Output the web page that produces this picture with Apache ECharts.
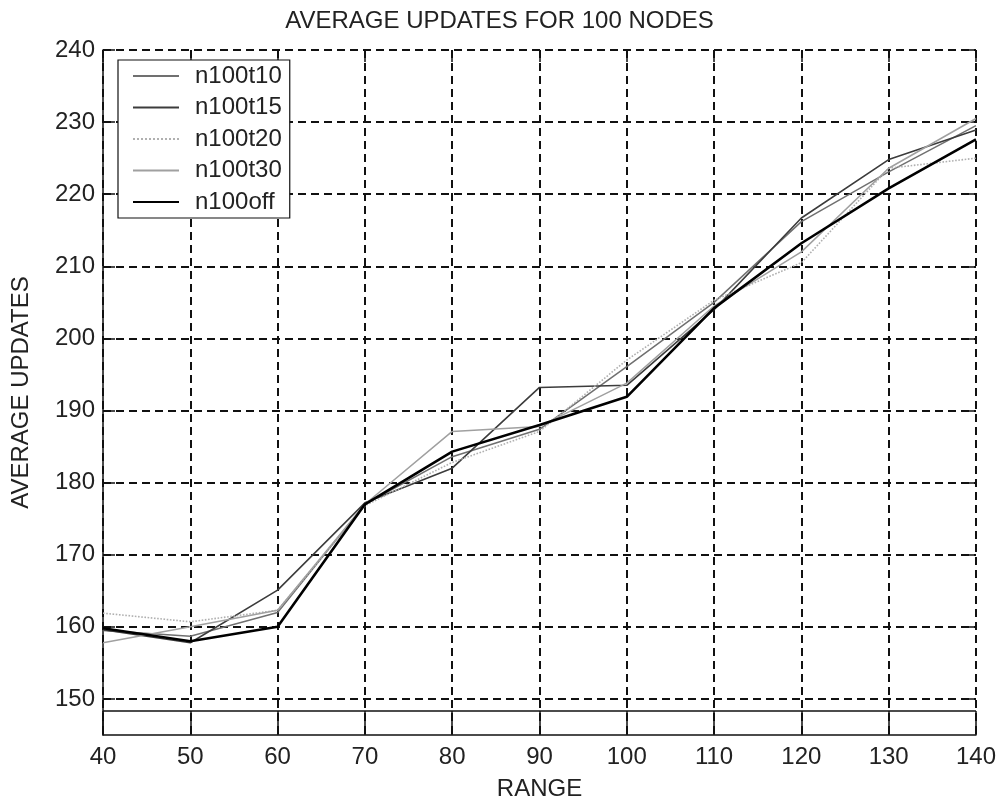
<!DOCTYPE html>
<html>
<head>
<meta charset="utf-8">
<script src="https://cdn.jsdelivr.net/npm/echarts@6/dist/echarts.min.js"></script>
<style>html,body{margin:0;padding:0;background:#fff;}#c{width:999px;height:806px;}</style>
</head>
<body>
<div id="c"></div>
<script>
const ranges = [40, 50, 60, 70, 80, 90, 100, 110, 120, 130, 140];
const n100t10 = [159.5, 158.7, 162.0, 177.0, 183.6, 187.4, 196.1, 205.0, 216.2, 223.1, 229.5];
const n100t15 = [159.6, 157.8, 165.1, 177.2, 182.0, 193.2, 193.5, 204.0, 216.7, 224.8, 228.9];
const n100t20 = [161.9, 160.7, 162.3, 176.8, 182.8, 187.1, 197.0, 205.3, 210.5, 223.6, 225.0];
const n100t30 = [157.8, 160.0, 162.3, 177.0, 187.1, 187.8, 193.8, 204.5, 212.0, 223.6, 230.5];
const n100off = [159.8, 158.0, 160.0, 177.0, 184.3, 188.0, 191.9, 204.2, 213.2, 220.8, 227.6];
const yTicks = [150, 160, 170, 180, 190, 200, 210, 220, 230, 240];
const baseLineValue = 148.3;

const FONT = "'Liberation Sans', Arial, sans-serif";
const pair = arr => ranges.map((x, i) => [x, arr[i]]);

const chart = echarts.init(document.getElementById('c'), null, {renderer: 'canvas'});
const mk = (name, data, color, width, type) => ({
  name, type: 'line', data: pair(data), symbol: 'none',
  lineStyle: {color, width, type: type || 'solid'}, itemStyle: {color},
  z: 3
});
const gridLines = yTicks.map(v => ({yAxis: v}));
gridLines.push({yAxis: baseLineValue, lineStyle: {type: 'solid', width: 1.5, color: '#111'}});

const offSeries = mk('n100off', n100off, '#000', 2.6);
offSeries.markLine = {
  silent: true, symbol: ['none', 'none'], label: {show: false},
  lineStyle: {type: [8, 5], color: '#111', width: 2},
  data: gridLines, z: 1
};

chart.setOption({
  animation: false,
  backgroundColor: '#fff',
  title: {
    text: 'AVERAGE UPDATES FOR 100 NODES', left: 'center', top: 4,
    textStyle: {fontFamily: FONT, fontSize: 24, fontWeight: 'normal', color: '#222'}
  },
  legend: {
    orient: 'vertical', left: 118, top: 60,
    padding: [4, 8, 4, 14], itemGap: 7.5, itemWidth: 46, itemHeight: 14,
    backgroundColor: '#fff', borderColor: '#111', borderWidth: 1.2,
    itemStyle: {opacity: 0},
    textStyle: {fontFamily: FONT, fontSize: 24, color: '#222', lineHeight: 24, padding: [0, 0, 0, 11]},
    data: ['n100t10', 'n100t15', 'n100t20', 'n100t30', 'n100off']
  },
  grid: {left: 103, right: 21, top: 50, bottom: 71, containLabel: false},
  xAxis: [{
    type: 'value', min: 40, max: 140, interval: 10,
    name: 'RANGE', nameLocation: 'middle', nameGap: 42,
    nameTextStyle: {fontFamily: FONT, fontSize: 24, color: '#222'},
    axisLine: {show: true, onZero: false, lineStyle: {color: '#111', width: 1.5}},
    axisTick: {show: true, inside: true, length: 24, lineStyle: {color: '#111', width: 1.5}},
    axisLabel: {fontFamily: FONT, fontSize: 24, color: '#222', margin: 10},
    splitLine: {show: true, lineStyle: {type: [8, 5], color: '#111', width: 2}}
  }, {
    type: 'value', min: 40, max: 140, interval: 10, position: 'top',
    axisLine: {show: false}, axisLabel: {show: false}, splitLine: {show: false},
    axisTick: {show: true, inside: true, length: 12, lineStyle: {color: '#111', width: 1.5}}
  }],
  yAxis: [{
    type: 'value', min: 145, max: 240, interval: 5,
    name: 'AVERAGE UPDATES', nameLocation: 'middle', nameGap: 70,
    nameTextStyle: {fontFamily: FONT, fontSize: 24, color: '#222'},
    axisLine: {show: true, onZero: false, lineStyle: {color: '#111', width: 1.5}},
    axisTick: {show: true, inside: true, length: 12, customValues: yTicks, lineStyle: {color: '#111', width: 1.5}},
    axisLabel: {fontFamily: FONT, fontSize: 24, color: '#222', margin: 8, customValues: yTicks,
      formatter: v => (v % 10 === 0 ? String(v) : '')},
    splitLine: {show: false}
  }, {
    type: 'value', min: 145, max: 240, interval: 5, position: 'right',
    axisLine: {show: false}, axisLabel: {show: false}, splitLine: {show: false},
    axisTick: {show: true, inside: true, length: 12, customValues: yTicks, lineStyle: {color: '#111', width: 1.5}}
  }],
  series: [
    mk('n100t10', n100t10, '#707070', 1.5),
    mk('n100t15', n100t15, '#3c3c3c', 1.6),
    mk('n100t20', n100t20, '#b0b0b0', 1.6, 'dotted'),
    mk('n100t30', n100t30, '#a0a0a0', 1.5),
    offSeries
  ]
});
</script>
</body>
</html>
